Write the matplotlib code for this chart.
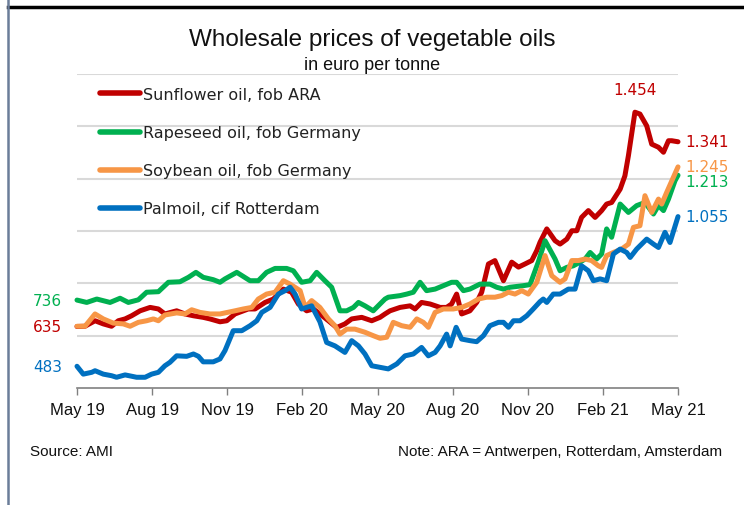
import matplotlib
matplotlib.use("Agg")
import matplotlib.pyplot as plt
from matplotlib.lines import Line2D

# months after May 2019 and prices in euro per tonne
sun_m = [0, 0.32, 0.72, 1.05, 1.38, 1.65, 1.92, 2.18, 2.52, 2.92, 3.25, 3.51, 3.98, 4.31,
         4.65, 5.04, 5.31, 5.71, 5.98, 6.31, 6.84, 7.11, 7.51, 7.84, 8.24, 8.57, 8.84,
         9.17, 9.44, 9.70, 10.04, 10.37, 10.70, 10.97, 11.37, 11.77, 12.10, 12.30, 12.50,
         12.90, 13.30, 13.50, 13.76, 14.10, 14.50, 14.76, 14.96, 15.16, 15.36, 15.69,
         15.96, 16.16, 16.43, 16.69, 17.03, 17.36, 17.63, 17.89, 18.16, 18.36, 18.49,
         18.76, 19.09, 19.29, 19.56, 19.76, 19.96, 20.15, 20.42, 20.69, 20.95, 21.15,
         21.35, 21.69, 21.88, 22.02, 22.28, 22.48, 22.75, 22.95, 23.22, 23.42, 23.62,
         23.75, 24.0]
sun_v = [635, 636, 657, 645, 636, 657, 664, 676, 695, 708, 702, 683, 695, 683,
         676, 670, 664, 653, 657, 683, 702, 702, 727, 740, 778, 766, 721,
         695, 702, 683, 657, 631, 645, 664, 670, 657, 670, 683, 695,
         708, 714, 702, 727, 721, 708, 708, 721, 759, 683, 695,
         727, 766, 874, 887, 810, 881, 862, 874, 887, 925, 957,
         1008, 963, 950, 969, 1001, 1001, 1052, 1078, 1052, 1078, 1103,
         1109, 1160, 1211, 1288, 1454, 1447, 1402, 1332, 1320, 1301, 1345,
         1345, 1341]

rap_m = [0, 0.39, 0.79, 1.32, 1.72, 2.05, 2.45, 2.78, 3.25, 3.65, 4.11, 4.45, 4.75, 5.04,
         5.44, 5.71, 5.91, 6.38, 6.91, 7.24, 7.57, 7.91, 8.37, 8.64, 8.97, 9.31, 9.57,
         9.90, 10.17, 10.50, 10.77, 11.04, 11.24, 11.50, 11.83, 12.10, 12.30, 12.43,
         12.90, 13.17, 13.43, 13.70, 13.96, 14.30, 14.63, 14.96, 15.16, 15.43, 15.69,
         16.09, 16.49, 16.76, 17.03, 17.29, 17.82, 18.09, 18.42, 18.69, 19.09, 19.29,
         19.56, 19.82, 20.09, 20.29, 20.49, 20.75, 20.95, 21.15, 21.35, 21.69, 22.02,
         22.35, 22.68, 23.02, 23.22, 23.42, 23.62, 23.88, 24.0]
rap_v = [736, 727, 740, 727, 743, 727, 737, 766, 768, 804, 806, 823, 842, 823,
         814, 804, 817, 842, 810, 810, 842, 857, 857, 848, 804, 810, 842,
         810, 785, 695, 695, 708, 727, 714, 695, 721, 740, 747,
         753, 759, 766, 804, 772, 778, 791, 804, 804, 772, 778,
         797, 797, 785, 778, 785, 791, 795, 881, 963, 893, 848,
         861, 867, 881, 893, 918, 893, 912, 1008, 976, 1103, 1071,
         1097, 1109, 1065, 1097, 1078, 1122, 1192, 1213]

soy_m = [0, 0.32, 0.72, 1.05, 1.45, 1.85, 2.12, 2.45, 2.78, 3.05, 3.25, 3.51, 3.98, 4.31,
         4.58, 4.91, 5.31, 5.71, 6.31, 6.64, 6.98, 7.24, 7.57, 7.91, 8.24, 8.51, 8.91,
         9.11, 9.37, 9.70, 10.04, 10.30, 10.50, 10.77, 11.10, 11.50, 11.83, 12.10, 12.37,
         12.63, 12.97, 13.30, 13.57, 13.83, 14.03, 14.30, 14.63, 15.03, 15.36, 15.69,
         16.03, 16.36, 16.69, 16.96, 17.23, 17.49, 17.76, 18.02, 18.36, 18.69, 18.96,
         19.29, 19.49, 19.76, 20.02, 20.29, 20.55, 20.82, 20.95, 21.15, 21.42, 21.75,
         22.02, 22.22, 22.48, 22.68, 22.95, 23.22, 23.35, 23.55, 24.0]
soy_v = [636, 636, 683, 664, 648, 645, 636, 651, 657, 664, 657, 679, 687, 683,
         699, 689, 683, 683, 695, 702, 708, 740, 759, 766, 810, 797, 772,
         708, 734, 708, 664, 638, 606, 625, 625, 613, 600, 590, 594,
         651, 638, 632, 664, 651, 632, 689, 702, 702, 708, 721,
         740, 747, 747, 753, 766, 759, 772, 759, 804, 906, 829,
         804, 817, 887, 887, 893, 887, 867, 861, 906, 918, 931,
         950, 1014, 1020, 1135, 1071, 1122, 1103, 1148, 1245]

palm_m = [0, 0.25, 0.59, 0.72, 1.05, 1.38, 1.58, 1.92, 2.18, 2.38, 2.72, 2.98, 3.25, 3.51,
          3.71, 3.98, 4.38, 4.65, 4.85, 5.04, 5.44, 5.71, 5.91, 6.24, 6.58, 6.91, 7.18,
          7.38, 7.71, 8.04, 8.31, 8.51, 8.71, 8.97, 9.17, 9.37, 9.70, 9.97, 10.30, 10.70,
          10.97, 11.24, 11.50, 11.77, 12.10, 12.43, 12.77, 13.10, 13.43, 13.76, 14.03,
          14.30, 14.50, 14.76, 14.90, 15.14, 15.36, 15.69, 15.96, 16.23, 16.49, 16.83,
          17.03, 17.23, 17.43, 17.69, 17.96, 18.22, 18.49, 18.62, 18.76, 19.02, 19.29,
          19.62, 19.89, 20.15, 20.42, 20.62, 20.89, 21.15, 21.42, 21.69, 21.95, 22.09,
          22.35, 22.75, 23.02, 23.22, 23.48, 23.68, 24.0]
palm_v = [483, 453, 460, 466, 453, 447, 441, 450, 445, 441, 441, 453, 460, 485,
          498, 523, 521, 530, 521, 500, 500, 511, 543, 619, 619, 638, 657,
          689, 708, 759, 772, 785, 759, 702, 708, 714, 653, 574, 561, 536,
          581, 561, 530, 485, 479, 473, 492, 523, 530, 555, 523,
          536, 561, 606, 561, 632, 587, 581, 577, 600, 638, 651,
          651, 632, 657, 657, 676, 702, 730, 740, 727, 759, 759,
          778, 778, 867, 848, 810, 817, 810, 912, 931, 918, 899,
          931, 969, 950, 937, 995, 956, 1055]

series = [
    ("Sunflower oil, fob ARA", sun_m, sun_v, "#c00000"),
    ("Rapeseed oil, fob Germany", rap_m, rap_v, "#00b050"),
    ("Soybean oil, fob Germany", soy_m, soy_v, "#f79646"),
    ("Palmoil, cif Rotterdam", palm_m, palm_v, "#0070c0"),
]
tick_pos = [0, 3, 6, 9, 12, 15, 18, 21, 24]
tick_labels = ["May 19", "Aug 19", "Nov 19", "Feb 20", "May 20", "Aug 20",
               "Nov 20", "Feb 21", "May 21"]

narrow = "Liberation Sans"
wide = "DejaVu Sans"

fig = plt.figure(figsize=(7.44, 5.06), dpi=100)
ax = fig.add_axes([77 / 744, 1 - 389 / 506, 601 / 744, 314 / 506])

for y in range(600, 1601, 200):
    ax.axhline(y, color="#d9d9d9", lw=1.5, zorder=0)

for name, m, v, c in series:
    ax.plot(m, v, color=c, lw=3.6, solid_joinstyle="round", solid_capstyle="round",
            clip_on=False, zorder=3)

ax.set_xlim(0, 24)
ax.set_ylim(400, 1600)
ax.set_yticks([])
ax.set_xticks(tick_pos)
ax.set_xticklabels(tick_labels, fontfamily=narrow, fontsize=12, color="#111111")
ax.tick_params(axis="x", length=5, width=1, color="#808080", pad=5)
for s in ["top", "right", "left"]:
    ax.spines[s].set_visible(False)
ax.spines["bottom"].set_color("#808080")
ax.spines["bottom"].set_linewidth(1.2)

handles = [Line2D([], [], color=c, lw=4, solid_capstyle="round") for _, _, _, c in series]
leg = ax.legend(handles, [s[0] for s in series], loc="upper left",
                bbox_to_anchor=(100 / 744, 1 - 88 / 506), bbox_transform=fig.transFigure,
                frameon=False, handlelength=2.5, handletextpad=0.2, labelspacing=1.45,
                borderpad=0, borderaxespad=0,
                prop={"family": wide, "size": 11.5})
for t in leg.get_texts():
    t.set_color("#222222")

# value labels
ax.text(-0.6, 736, "736", color="#00b050", fontsize=11, fontfamily=wide, ha="right", va="center")
ax.text(-0.6, 635, "635", color="#c00000", fontsize=11, fontfamily=wide, ha="right", va="center")
ax.text(-0.6, 483, "483", color="#0070c0", fontsize=11, fontfamily=wide, ha="right", va="center")
ax.text(22.28, 1540, "1.454", color="#c00000", fontsize=11, fontfamily=wide, ha="center", va="center")
ax.text(24.3, 1341, "1.341", color="#c00000", fontsize=11, fontfamily=wide, ha="left", va="center")
ax.text(24.3, 1248, "1.245", color="#f79646", fontsize=11, fontfamily=wide, ha="left", va="center")
ax.text(24.3, 1190, "1.213", color="#00b050", fontsize=11, fontfamily=wide, ha="left", va="center")
ax.text(24.3, 1055, "1.055", color="#0070c0", fontsize=11, fontfamily=wide, ha="left", va="center")

fig.text(372 / 744, 1 - 40 / 506, "Wholesale prices of vegetable oils", ha="center", va="center",
         fontfamily=narrow, fontsize=17.5, color="#111111")
fig.text(372 / 744, 1 - 65 / 506, "in euro per tonne", ha="center", va="center",
         fontfamily=narrow, fontsize=13, color="#111111")
fig.text(30 / 744, 1 - 452 / 506, "Source: AMI", ha="left", va="center",
         fontfamily=narrow, fontsize=11, color="#111111")
fig.text(722 / 744, 1 - 452 / 506, "Note: ARA = Antwerpen, Rotterdam, Amsterdam", ha="right",
         va="center", fontfamily=narrow, fontsize=11, color="#111111")

# frame lines
fig.add_artist(Line2D([8 / 744, 1], [1 - 8 / 506, 1 - 8 / 506], color="black", lw=2.5))
fig.add_artist(Line2D([8 / 744, 8 / 744], [0, 1], color="#6b7d99", lw=1.8))

fig.savefig("out.png", dpi=100)
